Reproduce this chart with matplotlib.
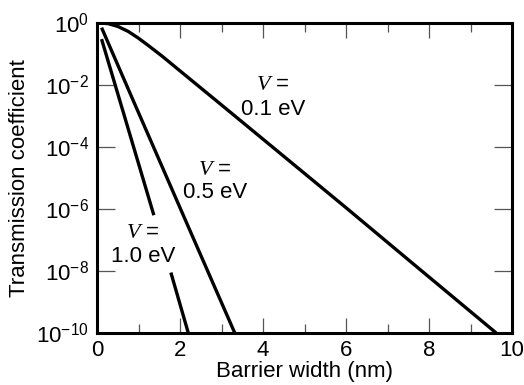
import numpy as np
import matplotlib
matplotlib.use("Agg")
import matplotlib.pyplot as plt
from matplotlib.ticker import FixedLocator, MultipleLocator, FuncFormatter

plt.rcParams['font.family'] = ['Liberation Sans', 'DejaVu Sans']
plt.rcParams['mathtext.fontset'] = 'custom'
plt.rcParams['mathtext.rm'] = 'Liberation Sans'
plt.rcParams['mathtext.it'] = 'Liberation Serif:italic'

# barrier width (nm) and log10 of transmission coefficient
x_01 = [0.10, 0.27, 0.50, 0.75, 1.00, 1.25, 1.56, 2.36, 3.16, 4.41, 6.02, 7.62, 9.62]
logt_01 = [-0.003, -0.02, -0.11, -0.27, -0.49, -0.74, -1.06, -1.94, -2.82, -4.20, -5.98, -7.77, -10.0]

x_05 = [0.11, 0.84, 1.44, 2.17, 3.32]
logt_05 = [-0.15, -2.40, -4.24, -6.48, -10.0]

# 1.0 eV curve is broken where its label sits
x_10 = [0.11, 1.37, np.nan, 1.78, 2.20]
logt_10 = [-0.52, -6.20, np.nan, -8.05, -10.0]

curves = [(x_01, logt_01), (x_05, logt_05), (x_10, logt_10)]

# label positions (x, log10 y) for "V =" and the value line
labels = [("0.1 eV", 4.24, -2.0, -2.8),
          ("0.5 eV", 2.85, -4.74, -5.48),
          ("1.0 eV", 1.11, -6.77, -7.52)]

FS = 16

fig = plt.figure(figsize=(5.24, 3.85), dpi=100)
ax = fig.add_axes([97 / 524, 52 / 385, 415 / 524, 310 / 385])

for xs, ls in curves:
    ax.plot(xs, 10 ** np.array(ls), color='black', lw=2.4, solid_capstyle='butt')

for val, lx, ly1, ly2 in labels:
    ax.text(lx, 10 ** ly1, r"$V$ =", ha='center', va='center', fontsize=FS)
    ax.text(lx, 10 ** ly2, val, ha='center', va='center', fontsize=FS)

ax.set_yscale('log')
ax.set_xlim(0, 10)
ax.set_ylim(1e-10, 1)

ax.xaxis.set_major_locator(MultipleLocator(2))
ax.xaxis.set_minor_locator(MultipleLocator(1))
ax.yaxis.set_major_locator(FixedLocator([10.0 ** e for e in range(-10, 1, 2)]))
ax.yaxis.set_minor_locator(FixedLocator([]))
ax.yaxis.set_major_formatter(FuncFormatter(lambda v, p: r"$10^{%d}$" % round(np.log10(v))))

ax.tick_params(which='both', direction='in', top=True, right=True,
               labelsize=FS, color='#555555', width=0.9)
ax.tick_params(axis='x', which='major', length=10.5, pad=5)
ax.tick_params(axis='x', which='minor', length=6.5)
ax.tick_params(axis='y', which='major', length=13, pad=6)

for s in ax.spines.values():
    s.set_linewidth(2.2)

ax.set_xlabel("Barrier width (nm)", fontsize=FS, labelpad=0)
ax.set_ylabel("Transmission coefficient", fontsize=FS, labelpad=4)

fig.savefig("out.png", dpi=100)
